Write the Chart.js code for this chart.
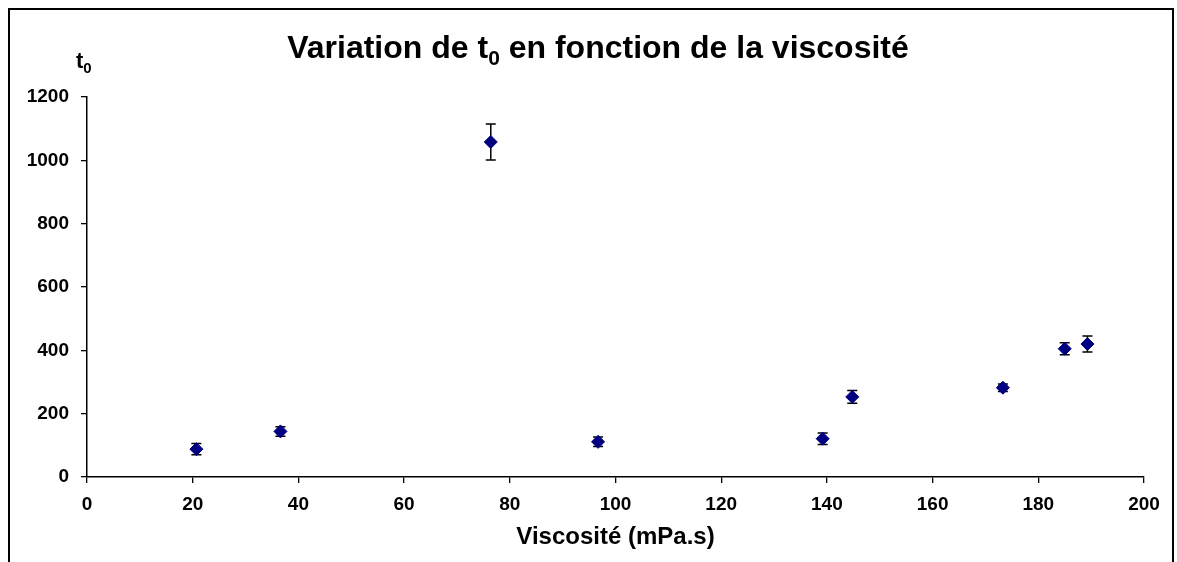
<!DOCTYPE html>
<html><head><meta charset="utf-8">
<script src="https://cdn.jsdelivr.net/npm/chart.js@4.4.0/dist/chart.umd.min.js"></script>
<style>html,body{margin:0;padding:0;background:#fff}#wrap{width:1177px;height:562px;position:relative}</style>
</head><body><div id="wrap"><canvas id="c" width="1177" height="562"></canvas></div>
<script>
const viscosity = [20.7, 36.6, 76.4, 96.7, 139.2, 144.8, 173.3, 185.0, 189.3];
const t0Values  = [88, 144, 1058, 111, 121, 253, 282, 405, 420];
const t0Errors  = [18, 15, 57, 15, 18, 20, 12, 19, 25];
const titleParts = ["Variation de t", "0", " en fonction de la viscosité"];
const yLabelParts = ["t", "0"];
const xTitle = "Viscosité (mPa.s)";

const FONT = "'Liberation Sans', Arial, sans-serif";

const framePlugin = {
  id: 'frame',
  beforeDraw(chart) {
    const ctx = chart.ctx;
    ctx.save();
    ctx.fillStyle = '#fff';
    ctx.fillRect(0, 0, chart.width, chart.height);
    ctx.strokeStyle = '#000';
    ctx.lineWidth = 2;
    ctx.strokeRect(9, 9, 1164, 600);
    ctx.restore();
  },
  afterDraw(chart) {
    const ctx = chart.ctx;
    ctx.save();
    ctx.fillStyle = '#000';
    ctx.textBaseline = 'alphabetic';
    const big = "bold 32px " + FONT, small = "bold 21px " + FONT;
    ctx.font = big; const w1 = ctx.measureText(titleParts[0]).width;
    const w3 = ctx.measureText(titleParts[2]).width;
    ctx.font = small; const w2 = ctx.measureText(titleParts[1]).width;
    const total = w1 + w2 + w3;
    let x = 598 - total / 2, base = 58;
    ctx.textAlign = 'left';
    ctx.font = big; ctx.fillText(titleParts[0], x, base); x += w1;
    ctx.font = small; ctx.fillText(titleParts[1], x, base + 7); x += w2;
    ctx.font = big; ctx.fillText(titleParts[2], x, base);
    ctx.font = "bold 22px " + FONT;
    ctx.fillText(yLabelParts[0], 76, 68);
    const tw = ctx.measureText(yLabelParts[0]).width;
    ctx.font = "bold 15px " + FONT;
    ctx.fillText(yLabelParts[1], 76 + tw, 73);
    ctx.restore();
  }
};

const errorBarPlugin = {
  id: 'errorBars',
  beforeDatasetsDraw(chart) {
    const ctx = chart.ctx;
    const xs = chart.scales.x, ys = chart.scales.y;
    ctx.save();
    ctx.strokeStyle = '#000';
    ctx.lineWidth = 1.5;
    for (let i = 0; i < viscosity.length; i++) {
      const px = xs.getPixelForValue(viscosity[i]);
      const top = ys.getPixelForValue(t0Values[i] + t0Errors[i]);
      const bot = ys.getPixelForValue(t0Values[i] - t0Errors[i]);
      ctx.beginPath();
      ctx.moveTo(px, top); ctx.lineTo(px, bot);
      ctx.moveTo(px - 5, top); ctx.lineTo(px + 5, top);
      ctx.moveTo(px - 5, bot); ctx.lineTo(px + 5, bot);
      ctx.stroke();
    }
    ctx.restore();
  }
};

new Chart(document.getElementById('c'), {
  type: 'scatter',
  data: {
    datasets: [{
      data: viscosity.map((v, i) => ({x: v, y: t0Values[i]})),
      pointStyle: 'rectRot',
      pointRadius: 6.5,
      pointHoverRadius: 6.5,
      backgroundColor: '#000080',
      borderColor: '#000080',
      borderWidth: 1
    }]
  },
  options: {
    responsive: false,
    animation: false,
    layout: { padding: { left: 7, right: 33, top: 97, bottom: 0 } },
    plugins: { legend: { display: false }, tooltip: { enabled: false }, title: { display: false } },
    scales: {
      x: {
        type: 'linear', min: 0, max: 200,
        afterFit(s) { s.height = 85; },
        ticks: { stepSize: 20, color: '#000', padding: 10, maxRotation: 0,
                 callback: v => String(v),
                 font: { family: FONT, size: 19, weight: 'bold' } },
        grid: { drawOnChartArea: false, drawTicks: true, tickLength: 6, color: '#000', lineWidth: 1.3 },
        border: { display: true, color: '#000', width: 1.5 },
        title: { display: true, text: xTitle, color: '#000', padding: { top: 8, bottom: 10 },
                 font: { family: FONT, size: 24, weight: 'bold' } }
      },
      y: {
        type: 'linear', min: 0, max: 1200,
        afterFit(s) { s.width = 80; },
        ticks: { stepSize: 200, color: '#000', padding: 12,
                 callback: v => String(v),
                 font: { family: FONT, size: 19, weight: 'bold' } },
        grid: { drawOnChartArea: false, drawTicks: true, tickLength: 6, color: '#000', lineWidth: 1.3 },
        border: { display: true, color: '#000', width: 1.5 }
      }
    }
  },
  plugins: [framePlugin, errorBarPlugin]
});
</script></body></html>
